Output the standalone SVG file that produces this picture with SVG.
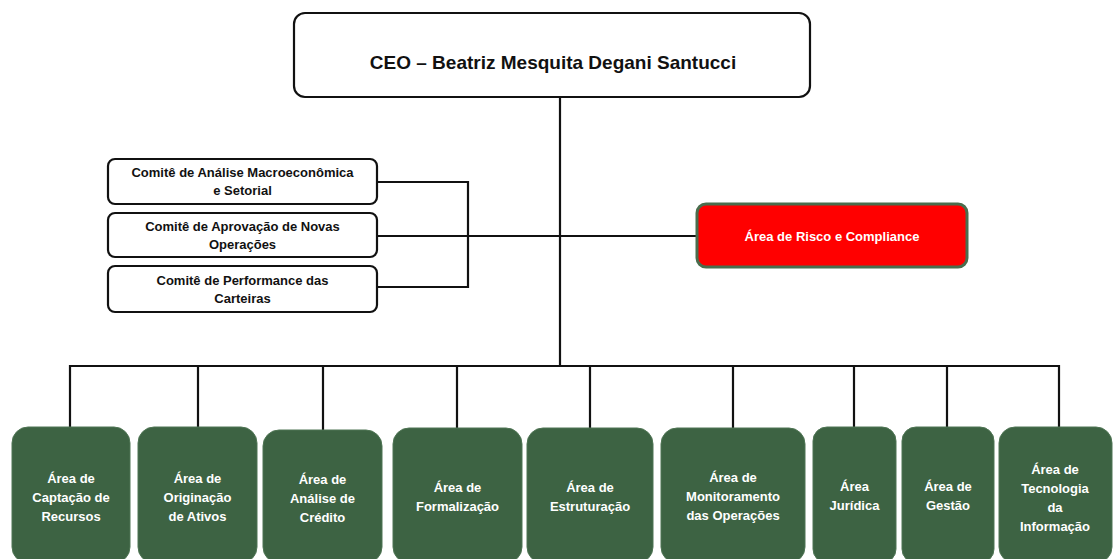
<svg xmlns="http://www.w3.org/2000/svg" width="1113" height="559" viewBox="0 0 1113 559">
<style>
.ln{stroke:#111;stroke-width:2.2;fill:none}
.wb{fill:#fff;stroke:#111;stroke-width:2.2}
.gb{fill:#3d6343;stroke:#4f7554;stroke-width:1}
.t{font-family:"Liberation Sans",Arial,sans-serif;font-weight:bold;text-anchor:middle}
.k{fill:#111;font-size:13px}
.w{fill:#fff;font-size:13px}
</style>
<rect width="1113" height="559" fill="#fff"/>
<g id="connectors">
<path class="ln" d="M560 97V366"/>
<path class="ln" d="M377 182H468V287H377M377 236H697"/>
<path class="ln" d="M70 427V366H1059V427M198 366V427M323 366V430M457 366V428M590 366V428M733 366V428M854 366V427M947 366V427"/>
</g>
<g id="ceo">
<rect class="wb" x="294" y="13" width="516" height="84" rx="11"/>
<text class="t" x="553" y="69" font-size="19" fill="#111">CEO – Beatriz Mesquita Degani Santucci</text>
</g>
<g id="comite1">
<rect class="wb" x="108" y="159" width="269" height="45" rx="7"/>
<text class="t k" x="242.5" y="177">Comitê de Análise Macroeconômica</text>
<text class="t k" x="242.5" y="195">e Setorial</text>
</g>
<g id="comite2">
<rect class="wb" x="108" y="213" width="269" height="44" rx="7"/>
<text class="t k" x="242.5" y="231">Comitê de Aprovação de Novas</text>
<text class="t k" x="242.5" y="249">Operações</text>
</g>
<g id="comite3">
<rect class="wb" x="108" y="266" width="269" height="46" rx="7"/>
<text class="t k" x="242.5" y="285">Comitê de Performance das</text>
<text class="t k" x="242.5" y="303">Carteiras</text>
</g>
<g id="risco">
<rect x="697" y="204" width="270" height="63" rx="9" fill="#ff0000" stroke="#4a6d4d" stroke-width="3"/>
<text class="t w" x="832" y="241">Área de Risco e Compliance</text>
</g>
<g id="captacao">
<rect class="gb" x="12" y="427" width="118" height="136" rx="16"/>
<text class="t w" x="71" y="483">Área de</text>
<text class="t w" x="71" y="502">Captação de</text>
<text class="t w" x="71" y="521">Recursos</text>
</g>
<g id="originacao">
<rect class="gb" x="138" y="427" width="119" height="136" rx="16"/>
<text class="t w" x="197.5" y="483">Área de</text>
<text class="t w" x="197.5" y="502">Originação</text>
<text class="t w" x="197.5" y="521">de Ativos</text>
</g>
<g id="credito">
<rect class="gb" x="263" y="430" width="119" height="133" rx="16"/>
<text class="t w" x="322.5" y="484">Área de</text>
<text class="t w" x="322.5" y="503">Análise de</text>
<text class="t w" x="322.5" y="522">Crédito</text>
</g>
<g id="formalizacao">
<rect class="gb" x="393" y="428" width="129" height="135" rx="16"/>
<text class="t w" x="457.5" y="492">Área de</text>
<text class="t w" x="457.5" y="511">Formalização</text>
</g>
<g id="estruturacao">
<rect class="gb" x="527" y="428" width="126" height="135" rx="16"/>
<text class="t w" x="590" y="492">Área de</text>
<text class="t w" x="590" y="511">Estruturação</text>
</g>
<g id="monitoramento">
<rect class="gb" x="661" y="428" width="144" height="135" rx="16"/>
<text class="t w" x="733" y="482">Área de</text>
<text class="t w" x="733" y="501">Monitoramento</text>
<text class="t w" x="733" y="520">das Operações</text>
</g>
<g id="juridica">
<rect class="gb" x="813" y="427" width="83" height="136" rx="14"/>
<text class="t w" x="854.5" y="491">Área</text>
<text class="t w" x="854.5" y="510">Jurídica</text>
</g>
<g id="gestao">
<rect class="gb" x="902" y="427" width="92" height="136" rx="14"/>
<text class="t w" x="948" y="491">Área de</text>
<text class="t w" x="948" y="510">Gestão</text>
</g>
<g id="tecnologia">
<rect class="gb" x="999" y="427" width="113" height="136" rx="16"/>
<text class="t w" x="1055" y="474">Área de</text>
<text class="t w" x="1055" y="493">Tecnologia</text>
<text class="t w" x="1055" y="512">da</text>
<text class="t w" x="1055" y="531">Informação</text>
</g>
</svg>
